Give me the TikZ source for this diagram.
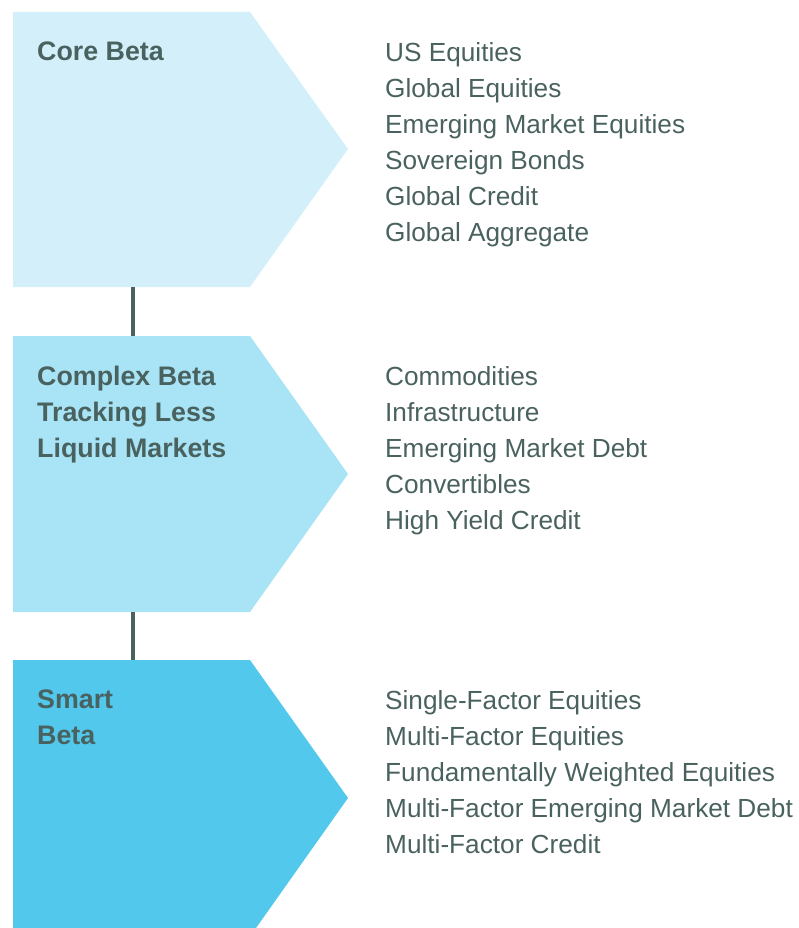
\documentclass[tikz,border=0pt]{standalone}
\usepackage{fontspec}
\setmainfont{Liberation Sans}

\definecolor{coretint}{HTML}{D3F0FA}
\definecolor{complextint}{HTML}{A8E4F5}
\definecolor{smarttint}{HTML}{52C8EC}
\definecolor{ink}{HTML}{4A625F}

\tikzset{
  tiertitle/.style={anchor=north west,inner sep=0pt,align=left,text=ink,
    font=\bfseries\fontsize{26.8}{36}\selectfont},
  tieritems/.style={anchor=north west,inner sep=0pt,align=left,text=ink,
    font=\fontsize{26.2}{36}\selectfont},
  tierlink/.style={ink,line width=4pt}
}

\begin{document}
\begin{tikzpicture}[x=1pt,y=-1pt]
\useasboundingbox (0,0) rectangle (799,928);

% the three chevrons
\fill[coretint] (13,12) -- (250,12) -- (348,149) -- (250,287) -- (13,287) -- cycle;
\fill[complextint] (13,336) -- (250,336) -- (348,474) -- (250,612) -- (13,612) -- cycle;
\fill[smarttint] (13,660) -- (250,660) -- (348,798) -- (256,928) -- (13,928) -- cycle;

\coordinate (core foot) at (133,287);
\coordinate (complex head) at (133,336);
\coordinate (complex foot) at (133,612);
\coordinate (smart head) at (133,660);

% links between tiers
\draw[tierlink] (core foot) -- (complex head);
\draw[tierlink] (complex foot) -- (smart head);

% titles
\node[tiertitle] (core title) at (37,42) {Core Beta};
\node[tiertitle] (complex title) at (37,366) {Complex Beta\\Tracking Less\\Liquid Markets};
\node[tiertitle] (smart title) at (37,690) {Smart\\Beta};

% asset classes
\node[tieritems] (core list) at (385,42.5) {US Equities\\Global Equities\\Emerging Market Equities\\Sovereign Bonds\\Global Credit\\Global Aggregate};
\node[tieritems] (complex list) at (385,366.5) {Commodities\\Infrastructure\\Emerging Market Debt\\Convertibles\\High Yield Credit};
\node[tieritems] (smart list) at (385,690.5) {Single-Factor Equities\\Multi-Factor Equities\\Fundamentally Weighted Equities\\Multi-Factor Emerging Market Debt\\Multi-Factor Credit};
\end{tikzpicture}
\end{document}
